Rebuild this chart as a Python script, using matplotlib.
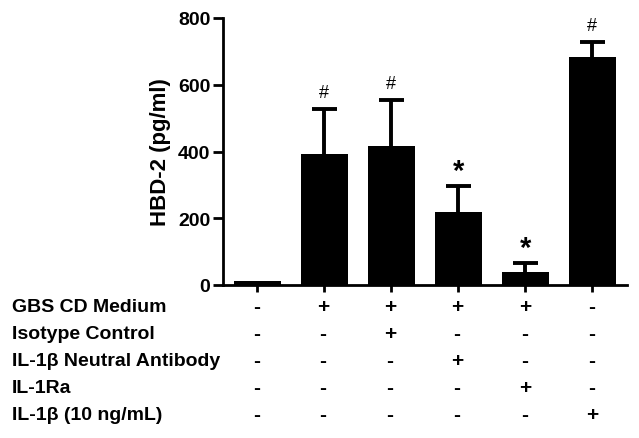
import matplotlib
matplotlib.use("Agg")
import matplotlib.pyplot as plt

plt.rcParams['font.family'] = ['Liberation Sans', 'DejaVu Sans']

# HBD-2 release per condition
hbd2 = [12, 392, 416, 219, 39, 683]
sem = [0, 135, 138, 77, 27, 45]
marks = ['', '#', '#', '*', '*', '#']

row_labels = ['GBS CD Medium', 'Isotype Control', 'IL-1\u03b2 Neutral Antibody',
              'IL-1Ra', 'IL-1\u03b2 (10 ng/mL)']
treatments = [
    ['-', '+', '+', '+', '+', '-'],
    ['-', '-', '+', '-', '-', '-'],
    ['-', '-', '-', '+', '-', '-'],
    ['-', '-', '-', '-', '+', '-'],
    ['-', '-', '-', '-', '-', '+'],
]


def main():
    fig = plt.figure(figsize=(6.39, 4.39), dpi=100)
    ax = fig.add_axes([223 / 639, 1 - 286 / 439, (627 - 223) / 639, (286 - 19) / 439])

    x = list(range(len(hbd2)))
    ax.bar(x, hbd2, width=0.70, color='black')
    _, caps, _ = ax.errorbar(x[1:], hbd2[1:], yerr=[[0] * 5, sem[1:]], fmt='none',
                             ecolor='black', elinewidth=2.8, capsize=9, capthick=2.8)
    caps[0].set_visible(False)  # no cap sitting on top of the bar

    for xi, v, e, m in zip(x, hbd2, sem, marks):
        if m == '#':
            ax.text(xi, v + e + 50, m, ha='center', va='center', fontsize=13)
        elif m == '*':
            ax.text(xi, v + e + 45, m, ha='center', va='center', fontsize=21,
                    fontweight='bold')

    ax.set_xlim(-0.51, 5.52)
    ax.set_ylim(0, 800)
    ax.set_yticks([0, 200, 400, 600, 800])
    ax.set_xticks(x)
    ax.set_xticklabels([])
    for s in ['top', 'right']:
        ax.spines[s].set_visible(False)
    for s in ['left', 'bottom']:
        ax.spines[s].set_linewidth(2)
    ax.tick_params(axis='y', length=7, width=2, labelsize=14, pad=2)
    ax.tick_params(axis='x', length=5, width=2)
    for lab in ax.get_yticklabels():
        lab.set_fontweight('bold')
    ax.set_ylabel('HBD-2 (pg/ml)', fontsize=16, fontweight='bold', labelpad=5)

    # treatment table under the bars
    col_px = [257, 323, 390, 457, 525, 592]
    for r, (name, signs) in enumerate(zip(row_labels, treatments)):
        yf = 1 - (308 + 27 * r) / 439
        fig.text(12 / 639, yf, name, ha='left', va='center', fontsize=14,
                 fontweight='bold')
        for c, sgn in zip(col_px, signs):
            fig.text(c / 639, yf, sgn, ha='center', va='center', fontsize=15,
                     fontweight='bold')

    fig.savefig('out.png', dpi=100)


if __name__ == '__main__':
    main()
